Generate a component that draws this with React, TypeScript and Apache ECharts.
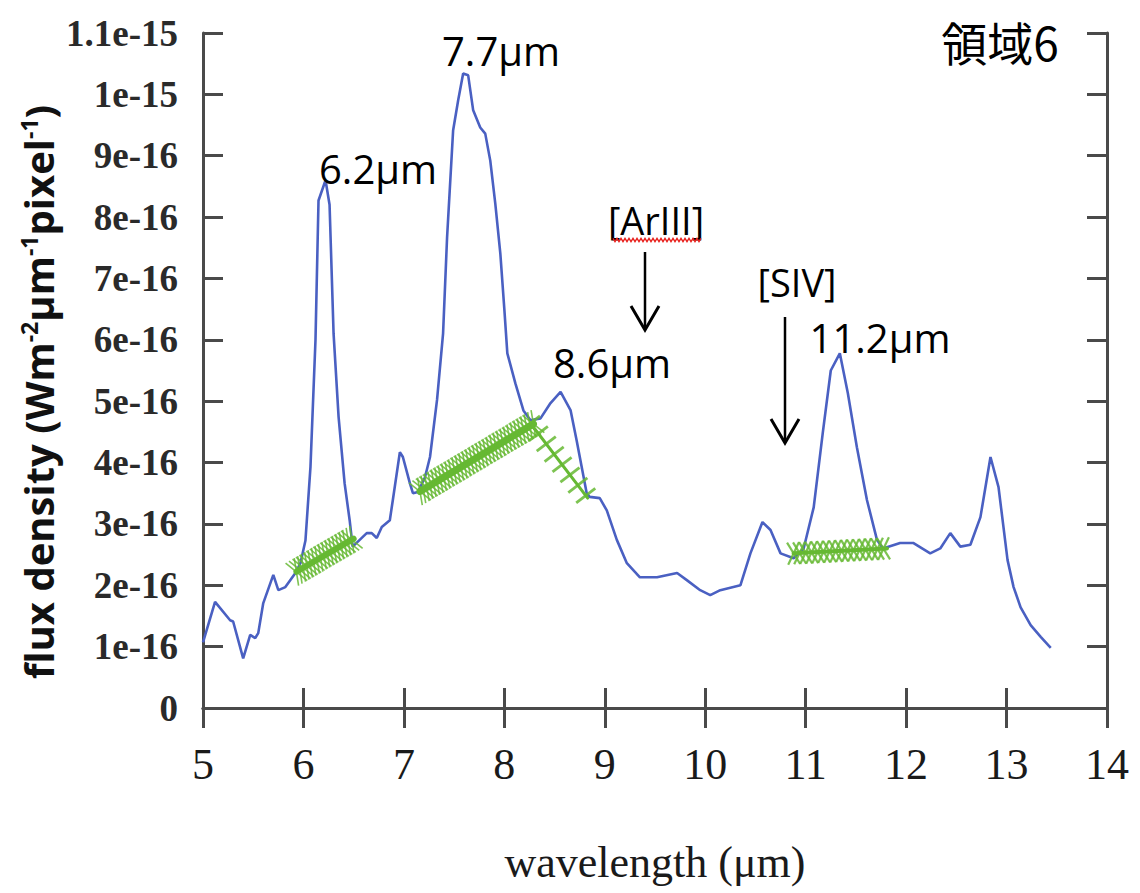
import React, { useEffect, useRef } from "react";
import * as echarts from "echarts";

// Wavelength (μm) and flux density (units of 1e-16 W m^-2 μm^-1 pixel^-1)
const wavelength = [
  5.0, 5.12, 5.27, 5.3, 5.4, 5.47, 5.52, 5.55, 5.6, 5.7, 5.75, 5.82, 5.92, 5.97, 6.02, 6.07, 6.12, 6.15,
  6.22, 6.26, 6.3, 6.35, 6.41, 6.46, 6.49, 6.56, 6.63, 6.68, 6.73, 6.78, 6.86, 6.89, 6.96, 6.99, 7.06,
  7.09, 7.14, 7.21, 7.26, 7.33, 7.39, 7.43, 7.49, 7.54, 7.59, 7.64, 7.69, 7.76, 7.81, 7.86, 7.91, 7.96,
  8.0, 8.03, 8.11, 8.19, 8.26, 8.36, 8.46, 8.56, 8.66, 8.72, 8.82, 8.85, 8.95, 9.02, 9.12, 9.22, 9.35,
  9.52, 9.72, 9.82, 9.95, 10.05, 10.15, 10.35, 10.45, 10.57, 10.65, 10.75, 10.88, 10.98, 11.08, 11.17,
  11.25, 11.34, 11.42, 11.51, 11.61, 11.71, 11.77, 11.94, 12.07, 12.24, 12.34, 12.44, 12.54, 12.64,
  12.74, 12.84, 12.92, 13.01, 13.07, 13.14, 13.24, 13.34, 13.44,
];
const flux = [
  1.07, 1.73, 1.43, 1.41, 0.81, 1.19, 1.14, 1.22, 1.71, 2.17, 1.92, 1.97, 2.2, 2.36, 2.73, 3.93, 6.0, 8.27,
  8.6, 8.2, 6.1, 4.74, 3.66, 3.06, 2.63, 2.74, 2.85, 2.85, 2.77, 2.95, 3.06, 3.39, 4.17, 4.09, 3.66,
  3.5, 3.52, 3.76, 4.09, 5.02, 6.1, 7.67, 9.41, 9.9, 10.34, 10.31, 9.74, 9.46, 9.36, 8.92, 8.22, 7.41,
  6.5, 5.78, 5.29, 4.85, 4.69, 4.72, 4.97, 5.15, 4.85, 4.36, 3.5, 3.44, 3.42, 3.22, 2.74, 2.36, 2.13,
  2.13, 2.2, 2.08, 1.92, 1.84, 1.92, 2.0, 2.52, 3.03, 2.9, 2.52, 2.44, 2.6, 3.27, 4.48,
  5.5, 5.78, 5.13, 4.25, 3.39, 2.74, 2.6, 2.69, 2.69, 2.52, 2.6, 2.85, 2.63, 2.66,
  3.11, 4.09, 3.6, 2.41, 1.97, 1.64, 1.35, 1.16, 0.98,
];

// Baseline segments used for the band measurements: start and end points
const baselineStart = [
  [5.93, 2.22],
  [7.16, 3.53],
  [8.26, 4.64],
  [10.88, 2.52],
];
const baselineEnd = [
  [6.5, 2.76],
  [8.29, 4.63],
  [8.83, 3.42],
  [11.81, 2.6],
];

const xTicks = { min: 5, max: 14, step: 1 };
const yTicks = { min: 0, max: 11, step: 1 };

const GREEN = "#66b933";
const BLUE = "#4a60c2";
const AXIS = "#4a4a4a";

// Hatching drawn along each baseline segment
const bandLook = [
  { width: 6, kind: "cross", step: 4, along: 5, across: 13, markWidth: 1.6 },
  { width: 7, kind: "cross", step: 4, along: 5, across: 13, markWidth: 1.6 },
  { width: 3, kind: "tick", step: 13, along: 0, across: 12, markWidth: 2.8 },
  { width: 4, kind: "cross", step: 6, along: 6, across: 11, markWidth: 2.2 },
];

function formatFlux(v: number): string {
  if (v === 0) return "0";
  if (v < 10) return `${+v.toFixed(1)}e-16`;
  return `${+(v / 10).toFixed(2)}e-15`;
}

function renderBand(params: any, api: any) {
  const a = api.coord([api.value(0), api.value(1)]);
  const b = api.coord([api.value(2), api.value(3)]);
  const dx = b[0] - a[0];
  const dy = b[1] - a[1];
  const len = Math.hypot(dx, dy);
  const ux = dx / len;
  const uy = dy / len;
  const nx = -uy;
  const ny = ux;
  const look = bandLook[params.dataIndex];
  const children: any[] = [
    {
      type: "line",
      shape: { x1: a[0], y1: a[1], x2: b[0], y2: b[1] },
      style: { stroke: GREEN, lineWidth: look.width, lineCap: "round" },
    },
  ];
  const markStyle = { stroke: GREEN, lineWidth: look.markWidth, opacity: 0.85 };
  for (let t = 0; t <= len + 0.01; t += look.step) {
    const cx = a[0] + ux * t;
    const cy = a[1] + uy * t;
    if (look.kind === "cross") {
      const p1x = ux * look.along + nx * look.across;
      const p1y = uy * look.along + ny * look.across;
      const p2x = -ux * look.along + nx * look.across;
      const p2y = -uy * look.along + ny * look.across;
      children.push({
        type: "line",
        shape: { x1: cx - p1x, y1: cy - p1y, x2: cx + p1x, y2: cy + p1y },
        style: markStyle,
      });
      children.push({
        type: "line",
        shape: { x1: cx - p2x, y1: cy - p2y, x2: cx + p2x, y2: cy + p2y },
        style: markStyle,
      });
    } else {
      children.push({
        type: "line",
        shape: {
          x1: cx - nx * look.across,
          y1: cy - ny * look.across,
          x2: cx + nx * look.across,
          y2: cy + ny * look.across,
        },
        style: markStyle,
      });
    }
  }
  return { type: "group", children };
}

function squiggle(x0: number, x1: number, y: number, amp: number, period: number) {
  const pts: number[][] = [];
  let up = true;
  for (let x = x0; x <= x1; x += period / 2) {
    pts.push([x, y + (up ? -amp : amp)]);
    up = !up;
  }
  return pts;
}

const labelFont = '"Open Sans", "Noto Sans", sans-serif';

function textEl(text: string, x: number, y: number, size: number, family = labelFont) {
  return {
    type: "text",
    x,
    y,
    z: 100,
    style: {
      text,
      fontSize: size,
      fontFamily: family,
      fill: "#000",
      align: "center",
      verticalAlign: "middle",
    },
  };
}

function arrowEl(x: number, yTop: number, yBottom: number) {
  return {
    type: "group",
    z: 100,
    children: [
      {
        type: "line",
        shape: { x1: x, y1: yTop, x2: x, y2: yBottom - 1 },
        style: { stroke: "#000", lineWidth: 2.5 },
      },
      {
        type: "polyline",
        shape: { points: [[x - 14, yBottom - 24], [x, yBottom], [x + 14, yBottom - 24]] },
        style: { stroke: "#000", lineWidth: 3, fill: null },
      },
    ],
  };
}

export default function App() {
  const ref = useRef<HTMLDivElement>(null);

  useEffect(() => {
    if (!ref.current) return;
    const chart = echarts.init(ref.current, null, { renderer: "svg" });

    const axisLine = { show: true, lineStyle: { color: AXIS, width: 3 } };
    const axisTick = { show: true, inside: true, length: 20, lineStyle: { color: AXIS, width: 3 } };
    const serif = '"Liberation Serif", "DejaVu Serif", serif';
    const nameFont = '"Open Sans", "Noto Sans", sans-serif';

    chart.setOption({
      animation: false,
      backgroundColor: "#fff",
      grid: { left: 203, right: 33, top: 33, bottom: 185, containLabel: false },
      xAxis: [
        {
          type: "value",
          min: xTicks.min,
          max: xTicks.max,
          interval: xTicks.step,
          axisLine,
          axisTick,
          splitLine: { show: false },
          axisLabel: { fontFamily: serif, fontSize: 44, color: "#1a1a1a", margin: 34 },
          name: "wavelength (μm)",
          nameLocation: "middle",
          nameGap: 132,
          nameTextStyle: { fontFamily: serif, fontSize: 44, color: "#1a1a1a" },
        },
        {
          type: "value",
          position: "top",
          min: xTicks.min,
          max: xTicks.max,
          interval: xTicks.step,
          axisLine,
          axisTick,
          splitLine: { show: false },
          axisLabel: { show: false },
        },
      ],
      yAxis: [
        {
          type: "value",
          min: yTicks.min,
          max: yTicks.max,
          interval: yTicks.step,
          axisLine,
          axisTick,
          splitLine: { show: false },
          axisLabel: {
            fontFamily: serif,
            fontSize: 37,
            fontWeight: "bold",
            color: "#2a2a2a",
            margin: 25,
            formatter: formatFlux,
          },
        },
        {
          type: "value",
          position: "right",
          min: yTicks.min,
          max: yTicks.max,
          interval: yTicks.step,
          axisLine,
          axisTick,
          splitLine: { show: false },
          axisLabel: { show: false },
        },
      ],
      series: [
        {
          type: "line",
          data: wavelength.map((w, i) => [w, flux[i]]),
          showSymbol: false,
          symbol: "none",
          lineStyle: { color: BLUE, width: 2.6 },
          z: 2,
        },
        {
          type: "custom",
          renderItem: renderBand,
          data: baselineStart.map((s, i) => [s[0], s[1], baselineEnd[i][0], baselineEnd[i][1]]),
          encode: { x: [0, 2], y: [1, 3] },
          z: 3,
        },
      ],
      graphic: [
        // y-axis title, written bottom to top
        {
          type: "text",
          x: 38,
          y: 392,
          rotation: Math.PI / 2,
          z: 100,
          style: {
            text: "flux density (Wm{sup|-2}μm{sup|-1}pixel{sup|-1})",
            fontFamily: nameFont,
            fontWeight: "bold",
            fontSize: 40,
            fill: "#111",
            align: "center",
            verticalAlign: "middle",
            rich: {
              sup: {
                fontFamily: nameFont,
                fontWeight: "bold",
                fontSize: 23,
                fill: "#111",
                verticalAlign: "top",
                padding: [0, 0, 18, 0],
              },
            },
          },
        },
        textEl("6.2μm", 378, 168, 40),
        textEl("7.7μm", 501, 50, 40),
        textEl("8.6μm", 612, 362, 40),
        textEl("11.2μm", 880, 337, 40),
        textEl("[ArIII]", 656, 220, 38),
        textEl("[SIV]", 797, 282, 38),
        textEl("領域6", 1000, 41, 46, '"Noto Sans CJK JP", sans-serif'),
        {
          type: "polyline",
          z: 100,
          shape: { points: squiggle(613, 702, 240, 1.6, 4) },
          style: { stroke: "#e8231f", lineWidth: 1.4, fill: null },
        },
        arrowEl(645, 252, 330),
        arrowEl(785, 317, 443),
      ],
    });

    return () => chart.dispose();
  }, []);

  return (
    <div
      ref={ref}
      style={{ position: "absolute", left: 0, top: 0, width: 1140, height: 893, background: "#fff" }}
    />
  );
}
